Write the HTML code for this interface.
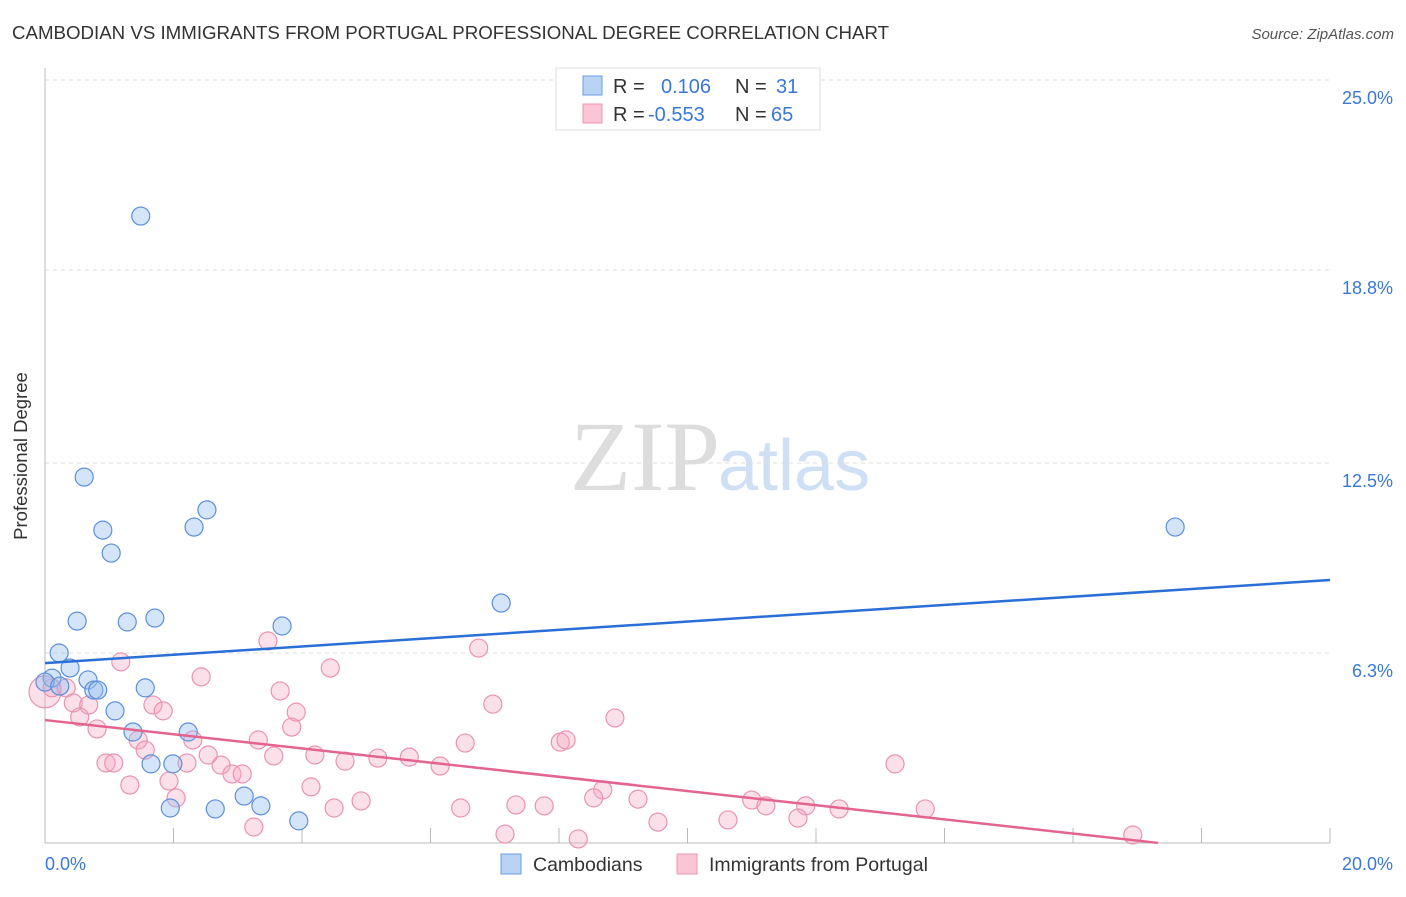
<!DOCTYPE html>
<html><head><meta charset="utf-8"><style>
body{margin:0;background:#fff;font-family:"Liberation Sans",sans-serif;}
svg text{font-family:"Liberation Sans",sans-serif;}
</style></head><body>
<svg id="chart" width="1406" height="892">
<text x="12" y="39" font-size="18.7" fill="#333">CAMBODIAN VS IMMIGRANTS FROM PORTUGAL PROFESSIONAL DEGREE CORRELATION CHART</text>
<text x="1394" y="39" font-size="15" fill="#555" font-style="italic" text-anchor="end">Source: ZipAtlas.com</text>
<text x="27" y="456" font-size="18.5" fill="#333" text-anchor="middle" transform="rotate(-90 27 456)">Professional Degree</text>
<text x="720" y="490" font-size="100" fill="#ddd" text-anchor="end" style="font-family:'Liberation Serif',serif">ZIP</text>
<text x="718" y="490" font-size="72" fill="#cfe0f5">atlas</text>
<g id="grid"></g><g id="axes"></g><g id="pts"></g><g id="lines"></g>
<g>
<rect x="556" y="68" width="264" height="62" fill="#fff" stroke="#ddd"/>
<rect x="583" y="76" width="19" height="19" fill="#b9d3f5" stroke="#6b9be0"/>
<rect x="583" y="104" width="19" height="19" fill="#fac5d5" stroke="#ec94b2"/>
<text x="613" y="93" font-size="20" fill="#333">R = <tspan x="661" fill="#3a78d8">0.106</tspan><tspan x="735" fill="#333">N = </tspan><tspan x="776" fill="#3a78d8">31</tspan></text>
<text x="613" y="121" font-size="20" fill="#333">R = <tspan x="648" fill="#3a78d8">-0.553</tspan><tspan x="735" fill="#333">N = </tspan><tspan x="771" fill="#3a78d8">65</tspan></text>
</g>
<g>
<rect x="501" y="854" width="20" height="20" fill="#b9d3f5" stroke="#6b9be0"/>
<text x="533" y="871" font-size="19.5" fill="#333">Cambodians</text>
<rect x="677" y="854" width="20" height="20" fill="#fac5d5" stroke="#ec94b2"/>
<text x="709" y="871" font-size="19.5" fill="#333">Immigrants from Portugal</text>
</g>
</svg>
<script>
const yTicks=[25.0,18.8,12.5,6.3];
const yTickLabels=["25.0%","18.8%","12.5%","6.3%"];
const xTickLabels=["0.0%","20.0%"];
const blueX=[1.49,0.61,2.52,0.90,2.32,1.03,7.10,17.59,0.50,1.28,1.71,3.69,0.22,0.39,0.11,0.67,0.76,0.82,1.56,1.09,1.37,2.23,1.65,1.99,3.10,1.95,2.65,3.36,3.95,0.0,0.23];
const blueY=[20.56,12.04,10.97,10.31,10.41,9.56,7.93,10.41,7.34,7.31,7.44,7.18,6.30,5.81,5.48,5.42,5.09,5.09,5.16,4.41,3.72,3.72,2.68,2.68,1.63,1.24,1.21,1.31,0.82,5.35,5.22];
const pinkX=[0,0.11,0.33,1.18,3.47,6.75,4.44,2.43,3.66,0.44,0.68,1.68,1.84,3.91,0.54,6.97,8.87,0.81,3.84,1.45,1.56,2.30,3.32,6.54,8.02,8.11,0.95,1.07,2.54,3.56,4.20,4.67,5.18,5.67,6.15,13.23,2.21,2.74,2.91,3.07,1.32,1.93,4.14,8.68,2.04,4.92,4.50,6.47,7.33,7.77,8.54,9.23,11.00,11.84,12.36,13.70,11.22,3.25,7.16,8.30,9.54,10.63,11.72,16.93];
const pinkY=[5.03,5.16,5.16,6.01,6.69,6.46,5.81,5.52,5.06,4.67,4.60,4.60,4.41,4.37,4.21,4.63,4.18,3.82,3.88,3.46,3.13,3.46,3.46,3.36,3.39,3.46,2.71,2.71,2.97,2.94,2.97,2.77,2.87,2.90,2.61,2.68,2.71,2.64,2.35,2.35,1.99,2.12,1.93,1.83,1.57,1.47,1.24,1.24,1.34,1.31,1.57,1.53,1.50,1.31,1.21,1.21,1.31,0.62,0.39,0.23,0.78,0.85,0.91,0.36];
const blueTrend=[5.97,8.68];
const pinkTrend=[4.11,-0.52];
const NS="http://www.w3.org/2000/svg";
const X=v=>45+v/20*1285, Y=v=>846-v*30.64;
function mk(t,a,p){const e=document.createElementNS(NS,t);for(const k in a)e.setAttribute(k,a[k]);p.appendChild(e);return e;}
const grid=document.getElementById('grid'),axes=document.getElementById('axes'),pts=document.getElementById('pts'),lines=document.getElementById('lines');
yTicks.forEach((v,i)=>{
 const l=mk('line',{x1:45,x2:1330,y1:Y(v),y2:Y(v),stroke:'#ddd','stroke-dasharray':'4 4'},grid);
 
 
 const t=mk('text',{x:1393,y:Y(v)+24,'font-size':18,fill:'#3a78d8','text-anchor':'end'},axes);
 t.textContent=yTickLabels[i];
 
 
});
mk('line',{x1:45,x2:45,y1:68,y2:843,stroke:'#bbb'},axes);
mk('line',{x1:45,x2:1330,y1:843,y2:843,stroke:'#bbb'},axes);
for(let i=1;i<=10;i++){const tk=mk('line',{x1:X(i*2),x2:X(i*2),y1:828,y2:843,stroke:'#bbb'},axes);
 
 }
[[0,'start',45],[20,'end',1393]].forEach((a,i)=>{const t=mk('text',{x:a[2],y:870,'font-size':18,fill:'#3a78d8','text-anchor':a[1]},axes);t.textContent=xTickLabels[i];
 
 });
pinkX.forEach((v,i)=>{const c=mk('circle',{cx:X(v),cy:Y(pinkY[i]),r:i==0?16:9,fill:'rgba(245,165,192,0.35)',stroke:'#ea93b1','stroke-width':1.2},pts);
 
 });
blueX.forEach((v,i)=>{const c=mk('circle',{cx:X(v),cy:Y(blueY[i]),r:9,fill:'rgba(150,190,240,0.4)',stroke:'#5b8fdb','stroke-width':1.2},pts);
 
 });
const bl=mk('line',{x1:X(0),y1:Y(blueTrend[0]),x2:X(20),y2:Y(blueTrend[1]),stroke:'#2a6fd6','stroke-width':2.5},lines);


const yEnd=0.1;
const xe=20*(pinkTrend[0]-yEnd)/(pinkTrend[0]-pinkTrend[1]);
const pl=mk('line',{x1:X(0),y1:Y(pinkTrend[0]),x2:X(xe),y2:Y(yEnd),stroke:'#e2648f','stroke-width':2.5},lines);


</script>
</body></html>
